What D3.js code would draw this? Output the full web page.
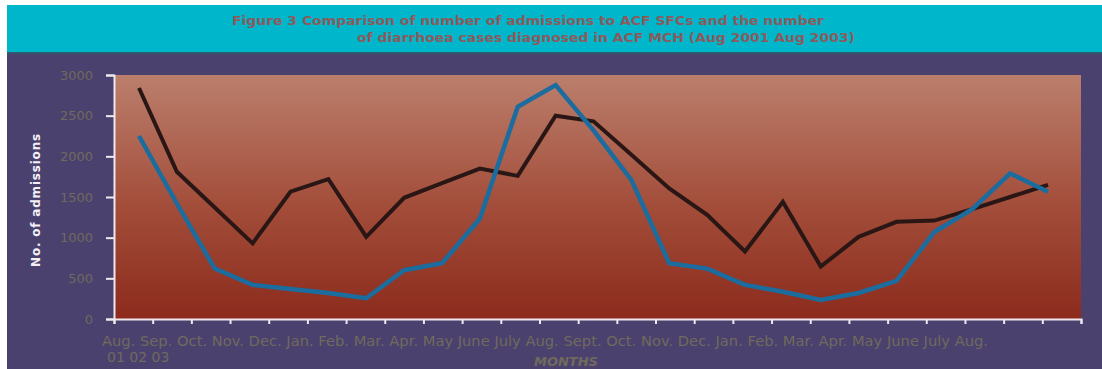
<!DOCTYPE html>
<html>
<head>
<meta charset="utf-8">
<script src="https://cdn.jsdelivr.net/npm/d3@7"></script>
<style>
  body { margin: 0; background: #ffffff; }
  svg { display: block; }
</style>
</head>
<body>
<div id="chart"></div>
<script>
// months Aug 2001 .. Aug 2003
var months = ["Aug-01", "Sep-01", "Oct-01", "Nov-01", "Dec-01", "Jan-02", "Feb-02", "Mar-02",
  "Apr-02", "May-02", "Jun-02", "Jul-02", "Aug-02", "Sep-02", "Oct-02", "Nov-02", "Dec-02",
  "Jan-03", "Feb-03", "Mar-03", "Apr-03", "May-03", "Jun-03", "Jul-03", "Aug-03"];

// the category label text as it is printed under the axis
var monthLabels = ["Aug.", "Sep.", "Oct.", "Nov.", "Dec.", "Jan.", "Feb.", "Mar.", "Apr.", "May",
  "June", "July", "Aug.", "Sept.", "Oct.", "Nov.", "Dec.", "Jan.", "Feb.", "Mar.", "Apr.", "May",
  "June", "July", "Aug."];
var yearLabels = ["01", "02", "03"];

// SFC admissions (black line)
var admissions = [2840, 1810, 1370, 930, 1565, 1720, 1010, 1490, 1670, 1850, 1760, 2500,
  2430, 2020, 1605, 1280, 830, 1440, 645, 1010, 1195, 1210, 1350, 1500, 1650];
// diarrhoea cases at MCH (blue line)
var diarrhoea = [2250, 1420, 620, 420, 370, 320, 255, 600, 685, 1235, 2610, 2875,
  2320, 1710, 685, 620, 420, 335, 235, 320, 470, 1070, 1350, 1790, 1565];

var yTicks = [0, 500, 1000, 1500, 2000, 2500, 3000];

var width = 1102;
var height = 369;

var svg = d3.select("#chart").append("svg")
  .attr("width", width)
  .attr("height", height);

var defs = svg.append("defs");
var grad = defs.append("linearGradient")
  .attr("id", "plotGrad")
  .attr("x1", 0).attr("y1", 0).attr("x2", 0).attr("y2", 1);
grad.append("stop").attr("offset", "0%").attr("stop-color", "#bb7f6c");
grad.append("stop").attr("offset", "55%").attr("stop-color", "#a24c39");
grad.append("stop").attr("offset", "100%").attr("stop-color", "#8c2b1d");

/* background panels */
svg.append("rect")
  .attr("x", 7).attr("y", 5)
  .attr("width", width - 7).attr("height", height - 5)
  .attr("fill", "#4b416f");

svg.append("rect")
  .attr("x", 7).attr("y", 5)
  .attr("width", width - 7).attr("height", 47)
  .attr("fill", "#00b6ca");

svg.append("rect")
  .attr("x", 7).attr("y", 52)
  .attr("width", width - 7).attr("height", 2)
  .attr("fill", "#2e5a6e");

/* title */
svg.append("text")
  .attr("x", 232).attr("y", 25)
  .attr("textLength", 592)
  .attr("lengthAdjust", "spacingAndGlyphs")
  .style("font-family", "'DejaVu Sans', Verdana, sans-serif")
  .style("font-weight", "bold")
  .style("font-size", "13px")
  .attr("fill", "#8d5a5c")
  .text("Figure 3 Comparison of number of admissions to ACF SFCs and the number");

svg.append("text")
  .attr("x", 357).attr("y", 42)
  .attr("textLength", 498)
  .attr("lengthAdjust", "spacingAndGlyphs")
  .style("font-family", "'DejaVu Sans', Verdana, sans-serif")
  .style("font-weight", "bold")
  .style("font-size", "13px")
  .attr("fill", "#8d5a5c")
  .text("of diarrhoea cases diagnosed in ACF MCH (Aug 2001 Aug 2003)");

/* scales */
var plotLeft = 114, plotRight = 1081, plotTop = 75, plotBottom = 319;

var yScale = d3.scaleLinear()
  .domain([0, 3000])
  .range([plotBottom, plotTop]);

var xScale = d3.scalePoint()
  .domain(months)
  .range([139, 1048]);

// tick marks sit on category edges
var xTickScale = d3.scaleLinear()
  .domain([0, months.length])
  .range([plotLeft, plotRight]);

/* plot area */
svg.append("rect")
  .attr("x", plotLeft).attr("y", plotTop)
  .attr("width", plotRight - plotLeft).attr("height", plotBottom - plotTop)
  .attr("fill", "url(#plotGrad)");

/* axes */
var yAxis = d3.axisLeft(yScale)
  .tickValues(yTicks)
  .tickFormat(d3.format("d"))
  .tickSize(8)
  .tickPadding(13);

var gy = svg.append("g")
  .attr("transform", "translate(" + plotLeft + ",0)")
  .call(yAxis);
gy.select(".domain").attr("stroke", "#f0e8ee").attr("stroke-width", 2);
gy.selectAll(".tick line").attr("stroke", "#f0e8ee").attr("stroke-width", 2);
gy.selectAll(".tick text")
  .attr("fill", "#6f6a5c")
  .style("font-family", "'DejaVu Sans', Verdana, sans-serif")
  .style("font-size", "13px");

var xAxis = d3.axisBottom(xTickScale)
  .tickValues(d3.range(months.length + 1))
  .tickSize(5)
  .tickFormat("");

var gx = svg.append("g")
  .attr("transform", "translate(0," + plotBottom + ")")
  .call(xAxis);
gx.select(".domain").attr("stroke", "#f0e8ee").attr("stroke-width", 2);
gx.selectAll(".tick line").attr("stroke", "#f0e8ee").attr("stroke-width", 2);

/* category text, printed as one run like the original */
svg.append("text")
  .attr("x", 102).attr("y", 346)
  .attr("textLength", 886)
  .attr("lengthAdjust", "spacingAndGlyphs")
  .style("font-family", "'DejaVu Sans', Verdana, sans-serif")
  .style("font-size", "14px")
  .attr("fill", "#6f6a5c")
  .text(monthLabels.join(" "));

svg.append("text")
  .attr("x", 107).attr("y", 362)
  .style("font-family", "'DejaVu Sans', Verdana, sans-serif")
  .style("font-size", "14px")
  .attr("fill", "#6f6a5c")
  .text(yearLabels.join(" "));

svg.append("text")
  .attr("x", 566).attr("y", 366)
  .attr("text-anchor", "middle")
  .style("font-family", "'DejaVu Sans', Verdana, sans-serif")
  .style("font-size", "13px")
  .style("font-weight", "bold")
  .style("font-style", "italic")
  .attr("fill", "#6f6a5c")
  .text("MONTHS");

svg.append("text")
  .attr("transform", "translate(40,200) rotate(-90)")
  .attr("text-anchor", "middle")
  .style("font-family", "'DejaVu Sans', Verdana, sans-serif")
  .style("font-size", "12px")
  .style("font-weight", "bold")
  .style("letter-spacing", "0.8px")
  .attr("fill", "#f4f0f4")
  .text("No. of admissions");

/* lines */
var line = d3.line()
  .x((d, i) => xScale(months[i]))
  .y(d => yScale(d));

svg.append("path")
  .attr("d", line(admissions))
  .attr("fill", "none")
  .attr("stroke", "#2a1715")
  .attr("stroke-width", 4)
  .attr("stroke-linejoin", "miter");

svg.append("path")
  .attr("d", line(diarrhoea))
  .attr("fill", "none")
  .attr("stroke", "#1b6c9f")
  .attr("stroke-width", 4.5)
  .attr("stroke-linejoin", "miter");
</script>
</body>
</html>
